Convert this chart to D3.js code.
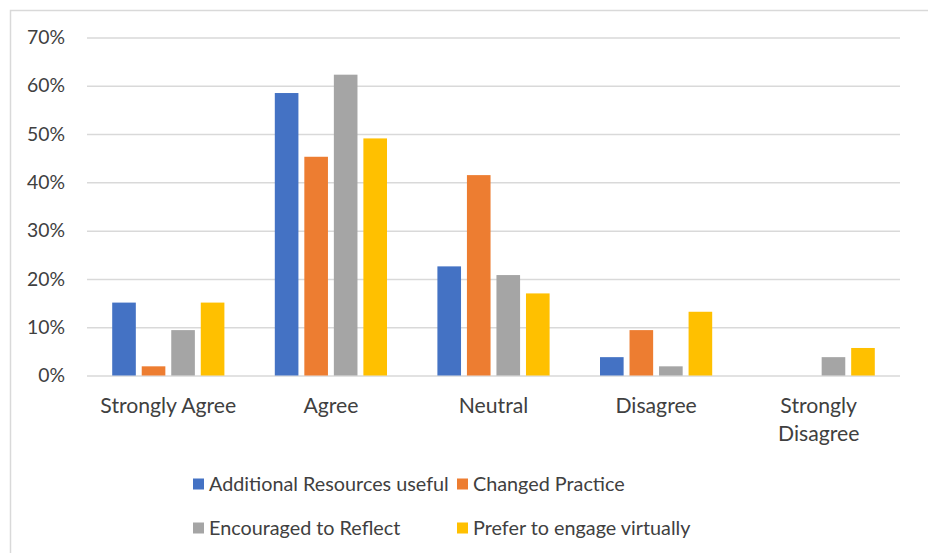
<!DOCTYPE html>
<html>
<head>
<meta charset="utf-8">
<script src="https://cdn.jsdelivr.net/npm/d3@7"></script>
<style>
  html, body { margin: 0; padding: 0; background: #fff; }
  svg { display: block; }
  text { font-family: Lato, "Open Sans", sans-serif; fill: #404040; }
</style>
</head>
<body>
<svg id="chart" width="928" height="553"></svg>
<script>
const categories = ["Strongly Agree", "Agree", "Neutral", "Disagree", "Strongly Disagree"];
const seriesNames = ["Additional Resources useful", "Changed Practice", "Encouraged to Reflect", "Prefer to engage virtually"];
const additionalResources = [0.151, 0.585, 0.226, 0.038, 0];
const changedPractice     = [0.019, 0.453, 0.415, 0.094, 0];
const encouragedReflect   = [0.094, 0.623, 0.208, 0.019, 0.038];
const preferVirtual       = [0.151, 0.491, 0.170, 0.132, 0.057];
const yTicks = [0, 0.1, 0.2, 0.3, 0.4, 0.5, 0.6, 0.7];
const colors = ["#4472C4", "#ED7D31", "#A5A5A5", "#FFC000"];

const seriesValues = [additionalResources, changedPractice, encouragedReflect, preferVirtual];

const svg = d3.select("#chart");

// chart border
svg.append("rect")
  .attr("x", 10.5).attr("y", 10.5)
  .attr("width", 940).attr("height", 580)
  .attr("fill", "none").attr("stroke", "#D9D9D9").attr("stroke-width", 1.5);

const plotLeft = 87, plotRight = 900, plotTop = 37.5, plotBottom = 375.5;

const x = d3.scaleBand().domain(categories).range([plotLeft, plotRight])
  .paddingInner(0.31).paddingOuter(0.155);
const xs = d3.scaleBand().domain(seriesNames).range([0, x.bandwidth()]).paddingInner(0.2);
const y = d3.scaleLinear().domain([0, 0.7]).range([plotBottom, plotTop]);

// gridlines
const grid = svg.append("g").attr("transform", `translate(${plotLeft},0)`)
  .call(d3.axisLeft(y).tickValues(yTicks).tickSize(-(plotRight - plotLeft)).tickFormat(""));
grid.select(".domain").remove();
grid.selectAll(".tick line").attr("stroke", "#D9D9D9").attr("stroke-width", 1.5);

// fit font size to reference widths
function fitSize(str, targetW, base) {
  const t = svg.append("text").attr("font-size", base).text(str);
  const w = t.node().getComputedTextLength();
  t.remove();
  return base * targetW / w;
}
const axisFont = fitSize("Strongly Agree", 136, 20);
const yFont = fitSize("70%", 38, 20);
const legendFont = fitSize("Additional Resources useful", 240, 20);

// y axis labels
const yAxis = svg.append("g").attr("transform", `translate(65,0)`)
  .call(d3.axisLeft(y).tickValues(yTicks).tickSize(0).tickPadding(0).tickFormat(d3.format(".0%")));
yAxis.select(".domain").remove();
yAxis.selectAll("text").attr("font-size", yFont).attr("font-family", "Lato, sans-serif").attr("fill", "#404040");

// bars
const groups = svg.append("g").selectAll("g")
  .data(categories).join("g")
  .attr("transform", d => `translate(${x(d)},0)`);

groups.selectAll("rect")
  .data((c, ci) => seriesNames.map((s, si) => ({ s, si, v: seriesValues[si][ci] })).filter(d => d.v > 0))
  .join("rect")
  .attr("x", d => xs(d.s))
  .attr("y", d => y(d.v))
  .attr("width", xs.bandwidth())
  .attr("height", d => y(0) - y(d.v))
  .attr("fill", d => colors[d.si]);

// category labels
const xAxis = svg.append("g").attr("transform", `translate(0,${plotBottom})`)
  .call(d3.axisBottom(x).tickSize(0).tickPadding(0));
xAxis.select(".domain").remove();
xAxis.selectAll(".tick text").each(function(d) {
  const t = d3.select(this);
  t.text(null).attr("y", 0).attr("dy", null)
    .attr("font-size", axisFont).attr("font-family", "Lato, sans-serif").attr("fill", "#404040");
  const lines = d === "Strongly Disagree" ? ["Strongly", "Disagree"] : [d];
  lines.forEach((ln, i) => {
    t.append("tspan").attr("x", 0).attr("y", 37 + i * 28).text(ln);
  });
});

// legend
const legendItems = [
  { name: seriesNames[0], color: colors[0], x: 193, y: 484 },
  { name: seriesNames[1], color: colors[1], x: 457, y: 484 },
  { name: seriesNames[2], color: colors[2], x: 193, y: 528 },
  { name: seriesNames[3], color: colors[3], x: 457, y: 528 }
];
const lg = svg.append("g").selectAll("g").data(legendItems).join("g")
  .attr("transform", d => `translate(${d.x},${d.y})`);
lg.append("rect").attr("x", 0).attr("y", -5.5).attr("width", 11).attr("height", 11)
  .attr("fill", d => d.color);
lg.append("text").attr("x", 16).attr("y", 0).attr("dy", "0.35em")
  .attr("font-size", legendFont).text(d => d.name);
</script>
</body>
</html>
